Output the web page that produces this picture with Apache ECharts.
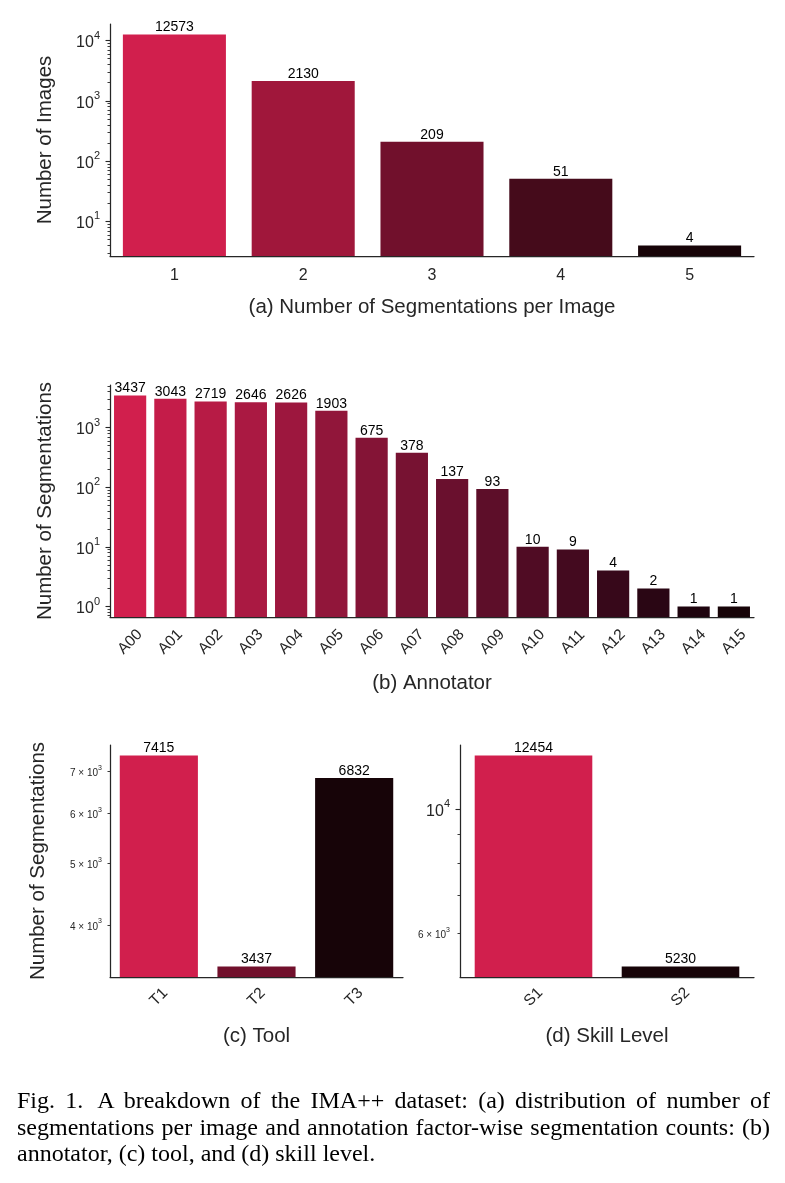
<!DOCTYPE html>
<html>
<head>
<meta charset="utf-8">
<script src="https://cdn.jsdelivr.net/npm/echarts@6.0.0/dist/echarts.min.js"></script>
<style>
  html, body { margin: 0; padding: 0; background: #fff; }
  #chart { position: absolute; left: 0; top: 0; width: 785px; height: 1183px; }
  #caption { position: absolute; left: 17px; top: 1087px; width: 753px;
    font-family: 'Liberation Serif', 'Times New Roman', serif; font-size: 24px;
    line-height: 26.5px; color: #000; }
  #caption div { text-align: justify; text-align-last: justify; white-space: nowrap; }
  #caption div.last { text-align-last: left; }
</style>
</head>
<body>
<div id="chart"></div>
<div id="caption">
  <div>Fig. 1.<span style="display:inline-block;width:14px"></span>A breakdown of the IMA++ dataset: (a) distribution of number of</div>
  <div>segmentations per image and annotation factor-wise segmentation counts: (b)</div>
  <div class="last">annotator, (c) tool, and (d) skill level.</div>
</div>
<script>
// (a) segmentations per image
const segCats = ['1', '2', '3', '4', '5'];
const segVals = [12573, 2130, 209, 51, 4];
// (b) annotator
const annCats = ['A00', 'A01', 'A02', 'A03', 'A04', 'A05', 'A06', 'A07',
                 'A08', 'A09', 'A10', 'A11', 'A12', 'A13', 'A14', 'A15'];
const annVals = [3437, 3043, 2719, 2646, 2626, 1903, 675, 378, 137, 93, 10, 9, 4, 2, 1, 1];
// (c) tool
const toolCats = ['T1', 'T2', 'T3'];
const toolVals = [7415, 3437, 6832];
// (d) skill level
const skillCats = ['S1', 'S2'];
const skillVals = [12454, 5230];

// log tick values
const segMajor = [10, 100, 1000, 10000];
const segMinor = [3, 4, 5, 6, 7, 8, 9, 20, 30, 40, 50, 60, 70, 80, 90,
                  200, 300, 400, 500, 600, 700, 800, 900,
                  2000, 3000, 4000, 5000, 6000, 7000, 8000, 9000];
const annMajor = [1, 10, 100, 1000];
const annMinor = [0.7, 0.8, 0.9, 2, 3, 4, 5, 6, 7, 8, 9, 20, 30, 40, 50, 60, 70, 80, 90,
                  200, 300, 400, 500, 600, 700, 800, 900, 2000, 3000, 4000, 5000];
const toolLabels = [4000, 5000, 6000, 7000];
const toolMinor = [4000, 5000, 6000, 7000];
const skillLabels = [6000, 10000];
const skillMajor = [10000];
const skillMinor = [6000, 7000, 8000, 9000];

const segColors = ['#d11f4d', '#a0173b', '#71102c', '#450b1b', '#170408'];
const annColors = ['#d11f4d', '#c41c49', '#b71b45', '#aa1942', '#9d173e', '#91163a', '#841436', '#771232',
                   '#6a102e', '#5d0e29', '#500c24', '#440a1f', '#37081a', '#2a0614', '#1e040e', '#170408'];
const toolColors = ['#d11f4d', '#71102c', '#170408'];
const skillColors = ['#d11f4d', '#170408'];

const ink = '#262626';
const font = 'Liberation Sans';

function logLabel(v) {
  const e = Math.floor(Math.log10(v) + 1e-9);
  const m = Math.round(v / Math.pow(10, e));
  if (m === 1) return '{b|10}{bs|' + e + '}';
  return '{s|' + m + ' \u00d7 10}{ss|' + e + '}';
}
const richLabels = {
  b: { fontSize: 16, lineHeight: 21, verticalAlign: 'bottom', color: ink, fontFamily: font },
  bs: { fontSize: 11, lineHeight: 21, verticalAlign: 'top', color: ink, fontFamily: font },
  s: { fontSize: 10, lineHeight: 14, verticalAlign: 'bottom', color: ink, fontFamily: font },
  ss: { fontSize: 7, lineHeight: 14, verticalAlign: 'top', color: ink, fontFamily: font }
};

const grids = [
  { left: 110, right: 31, top: 24, height: 232 },
  { left: 110, right: 31, top: 385, height: 232 },
  { left: 110, width: 293, top: 745, height: 232 },
  { left: 460, width: 294, top: 745, height: 232 }
];

const panels = [
  { cats: segCats, vals: segVals, colors: segColors, min: 2.67, max: 18810,
    major: segMajor, minor: segMinor, labels: segMajor,
    yName: 'Number of Images', yGap: 54, xName: '(a) Number of Segmentations per Image', xGap: 41,
    rotate: 0, labelMargin: 12 },
  { cats: annCats, vals: annVals, colors: annColors, min: 0.666, max: 5165,
    major: annMajor, minor: annMinor, labels: annMajor,
    yName: 'Number of Segmentations', yGap: 54, xName: '(b) Annotator', xGap: 56,
    rotate: 45, labelMargin: 25 },
  { cats: toolCats, vals: toolVals, colors: toolColors, min: 3307, max: 7706,
    major: [], minor: toolMinor, labels: toolLabels,
    yName: 'Number of Segmentations', yGap: 61, xName: '(c) Tool', xGap: 49,
    rotate: 45, labelMargin: 20 },
  { cats: skillCats, vals: skillVals, colors: skillColors, min: 5008, max: 13006,
    major: skillMajor, minor: skillMinor, labels: skillLabels,
    yName: '', yGap: 50, xName: '(d) Skill Level', xGap: 49,
    rotate: 45, labelMargin: 20 }
];

const xAxes = [], yAxes = [], series = [];
panels.forEach(function (p, i) {
  xAxes.push({
    type: 'category', gridIndex: i, data: p.cats,
    axisLine: { lineStyle: { color: ink, width: 1.25 } },
    axisTick: { alignWithLabel: true, length: 5, lineStyle: { color: ink, width: 1.1 } },
    axisLabel: p.rotate ? {
      interval: 0, rotate: p.rotate, align: 'center', verticalAlign: 'middle',
      margin: p.labelMargin, fontSize: 15.5, color: ink, fontFamily: font
    } : { interval: 0, margin: p.labelMargin, fontSize: 16, color: ink, fontFamily: font },
    name: p.xName, nameLocation: 'middle', nameGap: p.xGap,
    nameTextStyle: { fontSize: 20.5, color: ink, fontFamily: font }
  });
  yAxes.push({
    type: 'log', gridIndex: i, position: 'left', min: p.min, max: p.max, startValue: p.min,
    axisLine: { show: true, lineStyle: { color: ink, width: 1.25 } },
    axisTick: { show: p.major.length > 0, length: 4.5, lineStyle: { color: ink, width: 1.1 },
                customValues: p.major },
    axisLabel: { customValues: p.labels, formatter: logLabel, rich: richLabels,
                 margin: p.major.length ? 10 : 8 },
    splitLine: { show: false },
    name: p.yName, nameLocation: 'middle', nameGap: p.yGap,
    nameTextStyle: { fontSize: 20.5, color: ink, fontFamily: font }
  });
  yAxes.push({
    type: 'log', gridIndex: i, position: 'left', min: p.min, max: p.max,
    axisLine: { show: false },
    axisTick: { show: true, length: 2.5, lineStyle: { color: ink, width: 0.9 },
                customValues: p.minor },
    axisLabel: { show: false },
    splitLine: { show: false }
  });
  series.push({
    type: 'bar', xAxisIndex: i, yAxisIndex: 2 * i, data: p.vals,
    colorBy: 'data', color: p.colors, barCategoryGap: '20%',
    label: { show: true, position: 'top', distance: 0, fontSize: 14, color: '#000',
             fontFamily: font },
    clip: true
  });
});

const chart = echarts.init(document.getElementById('chart'), null, { renderer: 'canvas' });
chart.setOption({
  animation: false,
  backgroundColor: '#fff',
  textStyle: { fontFamily: font },
  grid: grids,
  xAxis: xAxes,
  yAxis: yAxes,
  series: series
});
</script>
</body>
</html>
